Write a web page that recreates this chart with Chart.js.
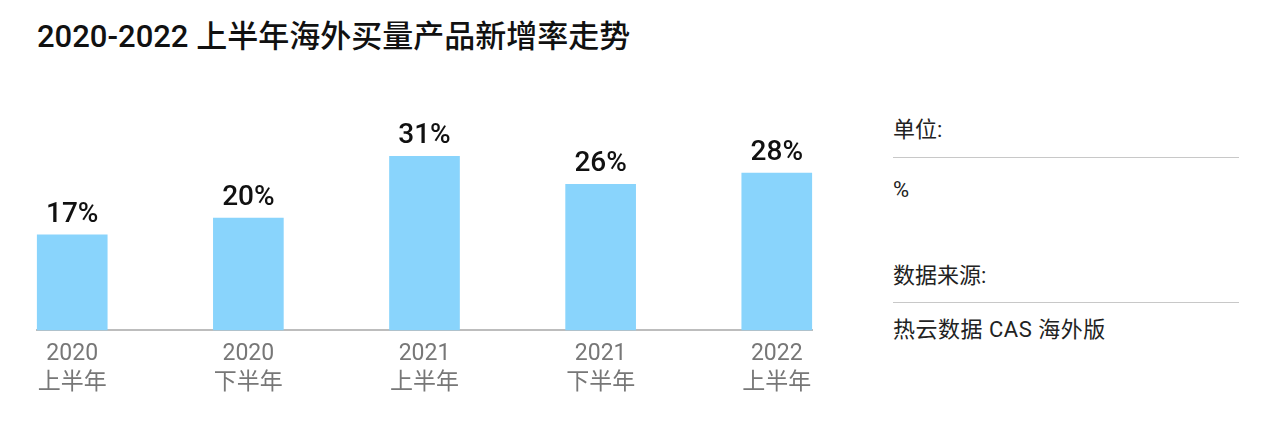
<!DOCTYPE html>
<html>
<head>
<meta charset="utf-8">
<script src="https://cdn.jsdelivr.net/npm/chart.js@4"></script>
<style>
  html, body { margin: 0; padding: 0; background: #fff; }
  body { width: 1280px; height: 432px; position: relative; overflow: hidden;
         font-family: Roboto, "Noto Sans CJK SC", sans-serif; }
  #title { position: absolute; left: 37px; top: 15px; font-size: 31px; line-height: 43px;
           font-weight: 500; color: #111; white-space: nowrap; }
  #wrap { position: absolute; left: 0; top: 0; width: 860px; height: 432px; }
  .side { position: absolute; left: 893px; font-size: 22px; line-height: 30px; color: #222; white-space: nowrap; }
  .rule { position: absolute; left: 893px; width: 346px; height: 0; border-top: 1px solid #c8c8c8; }
</style>
</head>
<body>
<div id="title">2020-2022 上半年海外买量产品新增率走势</div>
<div id="wrap"><canvas id="c"></canvas></div>
<div class="side" style="top:115px">单位:</div>
<div class="rule" style="top:157px"></div>
<div class="side" style="top:175px">%</div>
<div class="side" style="top:261px">数据来源:</div>
<div class="rule" style="top:302px"></div>
<div class="side" style="top:315px; letter-spacing:0.5px">热云数据 CAS 海外版</div>
<script>
const yearLabels = ['2020', '2020', '2021', '2021', '2022'];
const halfLabels = ['上半年', '下半年', '上半年', '下半年', '上半年'];
const values = [17, 20, 31, 26, 28];

const points = values.map((v, i) => ({ x: i, y: v }));

const valueLabelPlugin = {
  id: 'valueLabels',
  afterDatasetsDraw(chart) {
    const ctx = chart.ctx;
    const meta = chart.getDatasetMeta(0);
    ctx.save();
    ctx.font = '500 28px Roboto, "Noto Sans CJK SC", sans-serif';
    ctx.fillStyle = '#111';
    ctx.textAlign = 'center';
    ctx.textBaseline = 'alphabetic';
    meta.data.forEach((bar, i) => {
      ctx.fillText(values[i] + '%', bar.x, bar.y - 13);
    });
    ctx.restore();
  }
};

new Chart(document.getElementById('c'), {
  type: 'bar',
  data: {
    datasets: [{
      data: points,
      backgroundColor: '#89D4FC',
      borderWidth: 0,
      barThickness: 70,
      clip: false
    }]
  },
  options: {
    responsive: true,
    maintainAspectRatio: false,
    animation: false,
    layout: { padding: { left: 37, right: 48, top: 106, bottom: 0 } },
    plugins: { legend: { display: false }, tooltip: { enabled: false }, title: { display: false } },
    scales: {
      x: {
        type: 'linear',
        min: -0.2,
        max: 4.2,
        offset: false,
        grid: { display: false, drawTicks: false },
        border: { display: true, color: '#bdbdbd', width: 2 },
        afterBuildTicks(scale) {
          scale.ticks = values.map((_, i) => ({ value: i }));
        },
        afterFit(scale) { scale.height = 102; },
        ticks: {
          autoSkip: false,
          maxRotation: 0,
          padding: 10,
          color: '#777',
          font: { size: 23, family: 'Roboto, "Noto Sans CJK SC", sans-serif', lineHeight: 1.25 },
          callback: (value) => [yearLabels[value], halfLabels[value]]
        }
      },
      y: {
        display: false,
        min: 0,
        max: 40
      }
    }
  },
  plugins: [valueLabelPlugin]
});
</script>
</body>
</html>
